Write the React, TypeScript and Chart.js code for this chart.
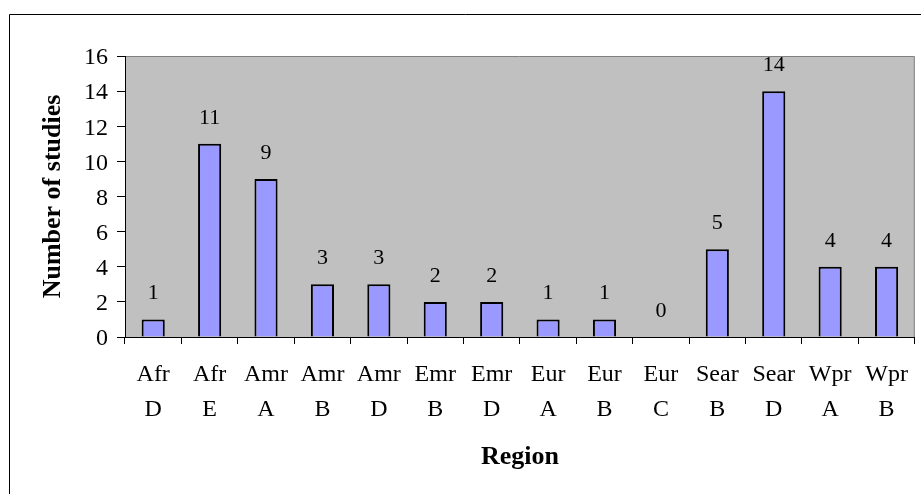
import React, { useEffect, useRef } from "react";
import { Chart, registerables } from "chart.js";

Chart.register(...registerables);

const regions: string[][] = [
  ["Afr", "D"], ["Afr", "E"], ["Amr", "A"], ["Amr", "B"], ["Amr", "D"],
  ["Emr", "B"], ["Emr", "D"], ["Eur", "A"], ["Eur", "B"], ["Eur", "C"],
  ["Sear", "B"], ["Sear", "D"], ["Wpr", "A"], ["Wpr", "B"],
];
const studies: number[] = [1, 11, 9, 3, 3, 2, 2, 1, 1, 0, 5, 14, 4, 4];
const yMin = 0;
const yMax = 16;
const yStep = 2;

const FONT = "'Liberation Serif', 'Times New Roman', serif";

const framePlugin = {
  id: "frame",
  beforeDraw(chart: any) {
    const { ctx, chartArea: a } = chart;
    ctx.save();
    ctx.fillStyle = "#ffffff";
    ctx.fillRect(0, 0, chart.width, chart.height);
    ctx.strokeStyle = "#000000";
    ctx.lineWidth = 1;
    ctx.beginPath();
    ctx.moveTo(9.5, chart.height + 5);
    ctx.lineTo(9.5, 14.5);
    ctx.lineTo(chart.width + 5, 14.5);
    ctx.stroke();
    ctx.fillStyle = "#c0c0c0";
    ctx.fillRect(a.left, a.top, a.right - a.left, a.bottom - a.top);
    ctx.strokeStyle = "#808080";
    ctx.beginPath();
    ctx.moveTo(a.left, a.top + 0.5);
    ctx.lineTo(a.right - 0.5, a.top + 0.5);
    ctx.lineTo(a.right - 0.5, a.bottom);
    ctx.stroke();
    ctx.restore();
  },
};

const valueLabelPlugin = {
  id: "valueLabels",
  afterDatasetsDraw(chart: any) {
    const { ctx } = chart;
    const meta = chart.getDatasetMeta(0);
    const data = chart.data.datasets[0].data as number[];
    ctx.save();
    ctx.fillStyle = "#000000";
    ctx.font = `22px ${FONT}`;
    ctx.textAlign = "center";
    ctx.textBaseline = "alphabetic";
    meta.data.forEach((bar: any, i: number) => {
      ctx.fillText(String(data[i]), bar.x, bar.y - 20);
    });
    ctx.restore();
  },
};

export default function App() {
  const ref = useRef<HTMLCanvasElement>(null);

  useEffect(() => {
    if (!ref.current) return;
    const chart = new Chart(ref.current, {
      type: "bar",
      data: {
        labels: regions,
        datasets: [
          {
            data: studies,
            backgroundColor: "#9999ff",
            borderColor: "#000000",
            borderWidth: 2,
            barPercentage: 0.41,
            categoryPercentage: 1,
          },
        ],
      },
      options: {
        animation: false,
        responsive: false,
        devicePixelRatio: 1,
        layout: { padding: { left: 0, top: 56, right: 3, bottom: 0 } },
        plugins: {
          legend: { display: false },
          tooltip: { enabled: false },
        },
        scales: {
          x: {
            afterFit: (s: any) => { s.height = 157; },
            grid: {
              offset: true,
              drawOnChartArea: false,
              drawTicks: true,
              tickLength: 7,
              color: "#000000",
            },
            border: { display: true, color: "#000000", width: 1 },
            ticks: {
              color: "#000000",
              padding: 13,
              maxRotation: 0,
              autoSkip: false,
              font: { family: FONT, size: 24, lineHeight: 1.46 },
            },
            title: {
              display: true,
              text: "Region",
              color: "#000000",
              font: { family: FONT, size: 26, weight: "bold", lineHeight: 1.2 },
              padding: { top: 0, bottom: 21.4 },
            },
          },
          y: {
            min: yMin,
            max: yMax,
            afterFit: (s: any) => { s.width = 125; },
            grid: {
              drawOnChartArea: false,
              drawTicks: true,
              tickLength: 8,
              color: "#000000",
            },
            border: { display: true, color: "#000000", width: 1 },
            ticks: {
              stepSize: yStep,
              color: "#000000",
              padding: 9,
              labelOffset: 2,
              font: { family: FONT, size: 24 },
            },
            title: {
              display: true,
              text: "Number of studies",
              color: "#000000",
              font: { family: FONT, size: 26, weight: "bold", lineHeight: 1.2 },
              padding: { top: 37.4, bottom: 0 },
            },
          },
        },
      },
      plugins: [framePlugin, valueLabelPlugin],
    });
    return () => chart.destroy();
  }, []);

  return (
    <div style={{ position: "absolute", left: 0, top: 0, width: 921, height: 494 }}>
      <canvas ref={ref} width={921} height={494} style={{ display: "block" }} />
    </div>
  );
}
